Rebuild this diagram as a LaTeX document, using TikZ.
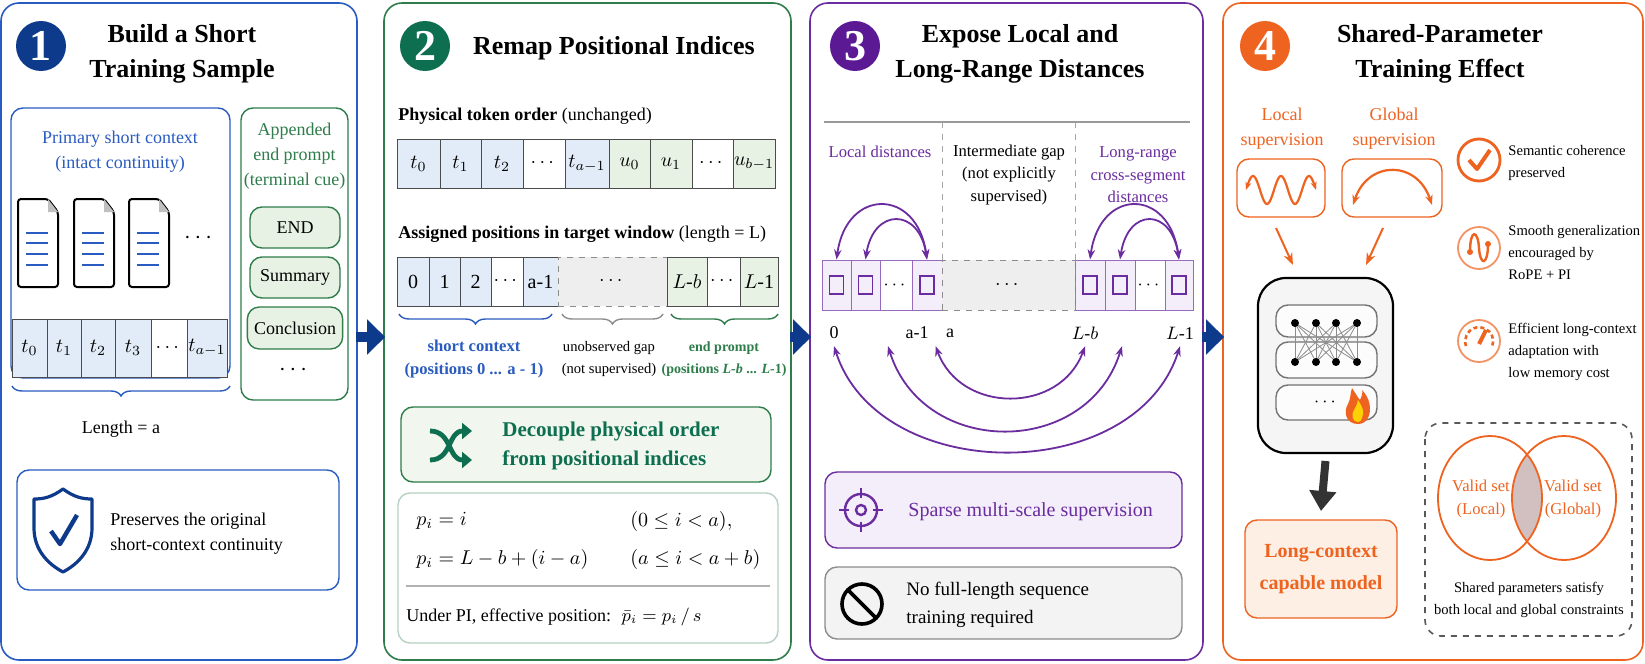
\documentclass[tikz,border=0pt]{standalone}
\usepackage{amsmath,amssymb}
\usepackage{fontspec}
\setmainfont{Liberation Serif}
\usetikzlibrary{positioning,arrows.meta,decorations.pathreplacing,calc}
\definecolor{cblue}{HTML}{2A5BC0}
\definecolor{cblueD}{HTML}{0D3A8A}
\definecolor{cbluel}{HTML}{E2ECF8}
\definecolor{cgreen}{HTML}{2E7D4A}
\definecolor{cgreenD}{HTML}{0E6E50}
\definecolor{cgreenl}{HTML}{E7F2E4}
\definecolor{cpurp}{HTML}{6A2C9E}
\definecolor{cpurpD}{HTML}{5B1A94}
\definecolor{cpurpl}{HTML}{F3EEFA}
\definecolor{corange}{HTML}{EE6320}
\definecolor{corangel}{HTML}{FDEFE4}
\definecolor{cgrayl}{HTML}{EEEEEE}
\newcommand{\ftitle}{\fontsize{13}{17.5}\selectfont\bfseries}
\newcommand{\fbody}{\fontsize{9}{12.5}\selectfont}
\newcommand{\fsmall}{\fontsize{8.3}{11.3}\selectfont}
\newcommand{\ftiny}{\fontsize{7.3}{11}\selectfont}
\tikzset{panel/.style={draw=#1,line width=0.8pt,rounded corners=9pt,fill=white},
  numc/.style={circle,fill=#1,text=white,minimum size=25pt,inner sep=0pt,
    font=\fontsize{22}{22}\selectfont\bfseries},
  ttl/.style={align=center,font=\ftitle},
  txt/.style={align=center,font=\fbody,inner sep=1pt},
  lbl/.style={align=left,anchor=west,font=\fsmall,inner sep=1pt},
  cell/.style={draw=black!70,line width=0.5pt,inner sep=0pt,font=\fontsize{10}{12}\selectfont},
  box/.style={draw=#1,line width=0.7pt,rounded corners=6pt},
  flow/.style={cblueD,line width=5pt,-{Triangle[width=17pt,length=9pt]},shorten <=-1pt,shorten >=-1pt},
  brc/.style={decorate,decoration={brace,mirror,amplitude=5pt},line width=0.7pt},
  arc/.style={cpurp,line width=0.9pt,{Stealth[length=5pt]}-{Stealth[length=5pt]}}}
\begin{document}
\begin{tikzpicture}[x=0.5pt,y=-0.5pt]
\useasboundingbox (0,0) rectangle (1645,664);
% panels
\node[panel=cblue,minimum width=178pt,minimum height=328.5pt] (p1) at (179,331.5) {};
\node[panel=cgreen,minimum width=203.5pt,minimum height=328.5pt] (p2) at (587.5,331.5) {};
\node[panel=cpurp,minimum width=196.5pt,minimum height=328.5pt] (p3) at (1006.5,331.5) {};
\node[panel=corange,minimum width=210pt,minimum height=328.5pt] (p4) at (1433,331.5) {};
\draw[flow] ([yshift=-2.75pt]p1.east) -- ([yshift=-2.75pt]p2.west);
\draw[flow] ([yshift=-2.75pt]p2.east) -- ([yshift=-2.75pt]p3.west);
\draw[flow] ([yshift=-2.75pt]p3.east) -- ([yshift=-2.75pt]p4.west);
% titles
\node[numc=cblueD] (n1) at (41,46) {1};
\node[ttl] (t1) at (182,54) {Build a Short\\Training Sample};
\node[numc=cgreenD] (n2) at (425,46) {2};
\node[ttl,anchor=west] (t2) at (466,48) {Remap Positional Indices};
\node[numc=cpurpD] (n3) at (855,46) {3};
\node[ttl] (t3) at (1020,54) {Expose Local and\\Long-Range Distances};
\node[numc=corange] (n4) at (1265,46) {4};
\node[ttl] (t4) at (1440,54) {Shared-Parameter\\Training Effect};

% ---- panel 1
\node[box=cblue,fill=white,minimum width=109.5pt,minimum height=135pt] (ctx) at (120.5,243) {};
\node[txt,text=cblue] (ctxl) at (120,152) {Primary short context\\(intact continuity)};
\foreach \x in {18,74,129}{
  \draw[line width=1pt,rounded corners=1.5pt,fill=white] (\x,199) -- (\x+30,199) -- (\x+40,212) -- (\x+40,287) -- (\x,287) -- cycle;
  \fill[black!25] (\x+30,199) -- (\x+30,212) -- (\x+40,212) -- cycle;
  \foreach \y in {233,243,254,265} \draw[cblue,line width=1pt] (\x+8,\y) -- (\x+30,\y);
}
\node[font=\fontsize{12}{12}\selectfont\bfseries] (ddots) at (200,238) {$\cdots$};
\foreach \a/\b/\t/\f [count=\i] in {12/47/$t_0$/cbluel,47/81/$t_1$/cbluel,81/115/$t_2$/cbluel,115/151/$t_3$/cbluel,151/187/$\cdots$/white,187/227/$t_{a-1}$/cbluel}
  \node[cell,fill=\f,minimum width={(\b-\a)*0.5pt},minimum height=29pt] (s\i) at ({(\a+\b)/2},348) {\t};
\draw[brc,cblue] (12,386) -- (230,386);
\node[txt] (lena) at (121,429) {Length = a};
\node[box=cgreen,fill=white,minimum width=53.5pt,minimum height=146pt] (app) at (294.5,254) {};
\node[txt,text=cgreen] (appl) at (294.5,156) {Appended\\end prompt\\(terminal cue)};
\node[box=cgreen,fill=cgreenl,minimum width=45pt,minimum height=20.5pt,font=\fbody] (e1) at (295,227.5) {END};
\node[box=cgreen,fill=cgreenl,minimum width=45pt,minimum height=20.5pt,font=\fbody] (e2) at (295,277.5) {Summary};
\node[box=cgreen,fill=cgreenl,minimum width=45pt,minimum height=21pt,font=\fbody] (e3) at (295,328) {Conclusion};
\node[font=\fontsize{12}{12}\selectfont\bfseries] (edots) at (295,370) {$\cdots$};
\node[box=cblue,fill=white,minimum width=161pt,minimum height=60pt] (pres) at (178,530) {};
\draw[cblueD,line width=1.6pt,line join=round] (63,489) .. controls (52,497) and (44,499) .. (34,499) -- (34,528) .. controls (34,550) and (48,564) .. (63,572) .. controls (78,564) and (92,550) .. (92,528) -- (92,499) .. controls (82,499) and (74,497) .. (63,489) -- cycle;
\draw[cblueD,line width=2.2pt,line join=round] (51,531) -- (60,544) -- (77,515);
\node[lbl,font=\fbody] (presl) at (108,534) {Preserves the original\\short-context continuity};

% ---- panel 2
\node[lbl,font=\fbody] (phys) at (396,116) {\textbf{Physical token order} (unchanged)};
\foreach \a/\b/\t/\f [count=\i] in {397/440/$t_0$/cbluel,440/481/$t_1$/cbluel,481/523/$t_2$/cbluel,523/565/$\cdots$/white,565/609/$t_{a-1}$/cbluel,609/650/$u_0$/cgreenl,650/692/$u_1$/cgreenl,692/733/$\cdots$/white,733/775/$u_{b-1}$/cgreenl}
  \node[cell,fill=\f,minimum width={(\b-\a)*0.5pt},minimum height=24.5pt] (q\i) at ({(\a+\b)/2},163.5) {\t};
\node[lbl,font=\fbody] (asg) at (396,234) {\textbf{Assigned positions in target window} (length = L)};
\foreach \a/\b/\t/\f [count=\i] in {397/429/0/cbluel,429/460/1/cbluel,460/491/2/cbluel,491/523/$\cdots$/white,523/558/a-1/cbluel}
  \node[cell,fill=\f,minimum width={(\b-\a)*0.5pt},minimum height=24.5pt] (r\i) at ({(\a+\b)/2},281.5) {\t};
\node[cell,fill=cgrayl,dashed,draw=black!45,minimum width=54.5pt,minimum height=24.5pt] (rgap) at (612.5,281.5) {$\cdots$};
\foreach \a/\b/\t/\f [count=\i] in {667/707/$L$-$b$/cgreenl,707/740/$\cdots$/white,740/778/$L$-1/cgreenl}
  \node[cell,fill=\f,minimum width={(\b-\a)*0.5pt},minimum height=24.5pt] (w\i) at ({(\a+\b)/2},281.5) {\t};
\draw[brc,cblue] (399,314) -- (552,314);
\draw[brc,black!45] (562,314) -- (663,314);
\draw[brc,cgreen] (671,314) -- (778,314);
\node[txt,font=\fsmall\bfseries,text=cblue] (shc) at (474,359) {short context\\(positions 0 ... a - 1)};
\node[txt,font=\ftiny] (ung) at (609,359) {unobserved gap\\(not supervised)};
\node[txt,font=\fontsize{7}{11}\selectfont\bfseries,text=cgreen] (enp) at (724,359) {end prompt\\(positions \textit{L-b} ... \textit{L}-1)};
\node[box=cgreen,fill=cgreenl!60,minimum width=185pt,minimum height=37.5pt] (dec) at (586,444.5) {};
\draw[cgreenD,line width=2.4pt,-{Triangle[length=5pt,width=8pt]}] (430,431) .. controls (452,431) and (448,460) .. (472,460);
\draw[cgreenD,line width=2.4pt,-{Triangle[length=5pt,width=8pt]}] (430,460) .. controls (452,460) and (448,431) .. (472,431);
\node[lbl,font=\fontsize{10.5}{14.5}\selectfont\bfseries,text=cgreenD] (decl) at (500,446) {Decouple physical order\\from positional indices};
\node[box=cgreen!35,fill=white,minimum width=190pt,minimum height=75pt] (frm) at (588,568) {};
\node[lbl,font=\fontsize{10}{12}\selectfont] (f1a) at (414,521) {$p_i = i$};
\node[lbl,font=\fontsize{10}{12}\selectfont] (f1b) at (628,521) {$(0 \le i < a),$};
\node[lbl,font=\fontsize{10}{12}\selectfont] (f2a) at (414,559) {$p_i = L - b + (i - a)$};
\node[lbl,font=\fontsize{10}{12}\selectfont] (f2b) at (628,559) {$(a \le i < a + b)$};
\draw[black!30,line width=0.6pt] (406,586) -- (770,586);
\node[lbl,font=\fbody] (f3) at (404,617) {Under PI, effective position: \ $\bar{p}_i = p_i \,/\, s$};

% ---- panel 3
\draw[black!40,line width=0.7pt] (824,122) -- (1190,122);
\draw[black!35,dashed] (942,122) -- (942,260);
\draw[black!35,dashed] (1075,122) -- (1075,260);
\node[txt,font=\fsmall,text=cpurp] (locd) at (880,152) {Local distances};
\node[txt,font=\fsmall] (intg) at (1009,175) {Intermediate gap\\(not explicitly\\supervised)};
\node[txt,font=\fsmall,text=cpurp] (lrd) at (1138,175) {Long-range\\cross-segment\\distances};
\foreach \a/\b/\f [count=\i] in {822/851/cpurpl,851/880/cpurpl,880/912/white,912/942/cpurpl,1075/1105/cpurpl,1105/1135/cpurpl,1135/1165/white,1165/1193/cpurpl}
  \node[cell,draw=cpurp!70,fill=\f,minimum width={(\b-\a)*0.5pt},minimum height=25pt] (c\i) at ({(\a+\b)/2},285) {};
\foreach \i in {1,2,4,5,6,8}
  \node[draw=cpurp,line width=0.7pt,minimum width=7pt,minimum height=9pt,inner sep=0pt] at (c\i) {};
\node[font=\fbody] at (c3) {$\cdots$};
\node[font=\fbody] at (c7) {$\cdots$};
\node[cell,fill=cgrayl,dashed,draw=black!45,minimum width=66.5pt,minimum height=25pt] (cgap) at (1008.5,285) {$\cdots$};
\draw[arc] (c1.north) .. controls +(10,-72) and +(-10,-72) .. (c4.north);
\draw[arc] (c2.north) .. controls +(8,-52) and +(-8,-52) .. (c4.north);
\draw[arc] (c5.north) .. controls +(10,-72) and +(-10,-72) .. (c8.north);
\draw[arc] (c6.north) .. controls +(8,-52) and +(-8,-52) .. (c8.north);
\node[font=\fbody] (x0) at (834,333) {0};
\node[font=\fbody] (xa1) at (917,333) {a-1};
\node[font=\fbody] (xa) at (950,333) {a};
\node[font=\fbody] (xlb) at (1085,333) {$L$-$b$};
\node[font=\fbody] (xl1) at (1180,333) {$L$-1};
\draw[arc] (x0.south) .. controls +(45,140) and +(-45,140) .. (xl1.south);
\draw[arc] ([xshift=27pt]x0.south) .. controls +(35,112) and +(-35,112) .. ([xshift=-29pt]xl1.south);
\draw[arc] (xa1.south east) .. controls +(25,68) and +(-25,68) .. (xlb.south);
\node[box=cpurp,fill=cpurpl,minimum width=178.5pt,minimum height=38pt] (sps) at (1003.5,510) {};
\draw[cpurp,line width=1.2pt] (861,510) circle (16);
\draw[cpurp,line width=1.2pt] (861,510) circle (5);
\draw[cpurp,line width=1.2pt] (861,488) -- (861,498) (861,522) -- (861,532) (839,510) -- (849,510) (873,510) -- (883,510);
\node[lbl,font=\fontsize{10}{12}\selectfont,text=cpurp] (spsl) at (906,512) {Sparse multi-scale supervision};
\node[box=black!45,fill=cgrayl!70,minimum width=178.5pt,minimum height=36pt] (nof) at (1003.5,603) {};
\draw[line width=1.8pt] (862,604) circle (20);
\draw[line width=1.8pt] (848,590) -- (876,618);
\node[lbl,font=\fontsize{9.5}{14}\selectfont] (nofl) at (904,605) {No full-length sequence\\training required};

% ---- panel 4
\node[txt,text=corange] (lsup) at (1282,129) {Local\\supervision};
\node[txt,text=corange] (gsup) at (1394,129) {Global\\supervision};
\node[box=corange,minimum width=44pt,minimum height=29pt] (lbox) at (1281,188) {};
\node[box=corange,minimum width=50pt,minimum height=29pt] (gbox) at (1392,188) {};
\draw[corange,line width=1.1pt,{Stealth[length=4pt]}-{Stealth[length=4pt]},smooth,samples=60,domain=0:1] plot ({1246+70*\x},{190-14*sin(900*\x)});
\draw[corange,line width=1.1pt,{Stealth[length=5pt]}-{Stealth[length=5pt]}] (1353,205) .. controls (1368,160) and (1417,160) .. (1432,205);
\node[draw=black,line width=1.1pt,rounded corners=14pt,fill=cgrayl!60,minimum width=67.5pt,minimum height=87.5pt] (mdl) at (1325.5,365.5) {};
\draw[corange,line width=1pt,-{Stealth[length=6pt]}] (1276,228) -- (1293,265);
\draw[corange,line width=1pt,-{Stealth[length=6pt]}] (1383,228) -- (1366,265);
\node[box=black!55,fill=white!85!cgrayl,minimum width=50.5pt,minimum height=16pt] (ly1) at (1326.5,321) {};
\node[box=black!55,fill=white!85!cgrayl,minimum width=50.5pt,minimum height=18pt] (ly2) at (1326.5,360) {};
\node[box=black!55,fill=white!85!cgrayl,minimum width=50.5pt,minimum height=17.5pt,font=\fbody] (ly3) at (1326.5,402.5) {$\cdots$};
\foreach \a in {1295,1316,1336,1357}
  \foreach \b in {1295,1316,1336,1357}
    \draw[black!45,line width=0.4pt] (\a,323) -- (\b,362);
\foreach \a in {1295,1316,1336,1357}{
  \fill (\a,323) circle (4);
  \fill (\a,362) circle (4);
}
\fill[corange] (1358,424) .. controls (1346,424) and (1343,412) .. (1348,404) .. controls (1351,398) and (1350,394) .. (1352,388) .. controls (1356,394) and (1358,398) .. (1360,400) .. controls (1362,396) and (1363,392) .. (1362,390) .. controls (1370,398) and (1372,410) .. (1368,418) .. controls (1366,422) and (1362,424) .. (1358,424) -- cycle;
\fill[yellow!70!orange] (1358,422) .. controls (1352,422) and (1351,414) .. (1354,410) .. controls (1356,407) and (1357,404) .. (1358,400) .. controls (1362,406) and (1365,412) .. (1362,418) .. controls (1361,421) and (1360,422) .. (1358,422) -- cycle;
\node[box=corange,fill=corangel,minimum width=76pt,minimum height=49pt,align=center,font=\fontsize{10}{16}\selectfont\bfseries,text=corange] (lcm) at (1321,569) {Long-context\\capable model};
\draw[black!80,line width=4pt,-{Triangle[width=13pt,length=10pt]}] (mdl.south |- 0,461) -- (lcm.north |- 0,511);
\draw[corange,line width=1.4pt] (1479,160) circle (21);
\draw[corange,line width=2pt,line join=round] (1469,160) -- (1477,169) -- (1490,150);
\node[lbl,font=\ftiny] (sem) at (1506,163) {Semantic coherence\\preserved};
\draw[corange!70,line width=0.9pt] (1479,248) circle (21);
\draw[corange,line width=1.2pt] (1470,252) .. controls (1470,228) and (1478,230) .. (1479,248) .. controls (1480,266) and (1488,266) .. (1488,244);
\fill[corange] (1470,252) circle (3) (1488,244) circle (3);
\node[lbl,font=\ftiny] (smo) at (1506,253) {Smooth generalization\\encouraged by\\RoPE + PI};
\draw[corange!70,line width=0.9pt] (1479,341) circle (21);
\draw[corange,line width=1.3pt,dash pattern=on 2pt off 1.5pt] (1466,346) arc [start angle=160,end angle=380,radius=14];
\draw[corange,line width=2pt] (1479,344) -- (1486,330);
\node[lbl,font=\ftiny] (eff) at (1506,352) {Efficient long-context\\adaptation with\\low memory cost};
\draw[black!65,dashed,rounded corners=8pt,line width=0.8pt] (1425,423) rectangle (1632,636);
\begin{scope}
  \clip (1490,498) ellipse [x radius=52,y radius=62];
  \fill[red!30!black!25] (1564,498) ellipse [x radius=52,y radius=62];
\end{scope}
\draw[corange,line width=0.9pt] (1490,498) ellipse [x radius=52,y radius=62];
\draw[corange,line width=0.9pt] (1564,498) ellipse [x radius=52,y radius=62];
\node[txt,font=\fsmall,text=corange] (vl) at (1481,499) {Valid set\\(Local)};
\node[txt,font=\fsmall,text=corange] (vg) at (1573,499) {Valid set\\(Global)};
\node[txt,font=\ftiny] (shp) at (1529,600) {Shared parameters satisfy\\both local and global constraints};
\end{tikzpicture}
\end{document}
